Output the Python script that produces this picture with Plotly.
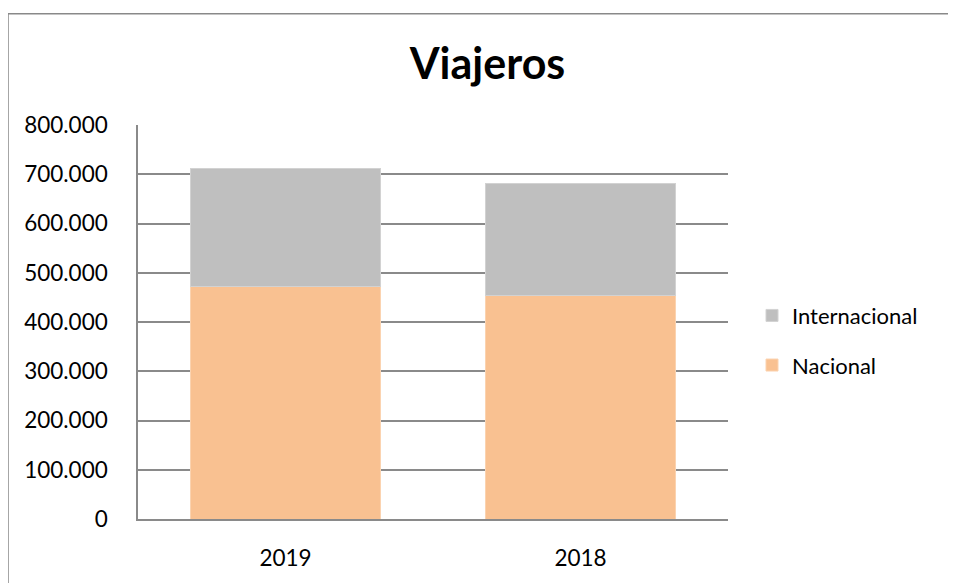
import plotly.graph_objects as go

years = ["2019", "2018"]
nacional = [472000, 453500]
internacional = [239500, 228300]
y_ticks = [0, 100000, 200000, 300000, 400000, 500000, 600000, 700000, 800000]
y_tick_labels = ["0", "100.000", "200.000", "300.000", "400.000", "500.000", "600.000", "700.000", "800.000"]

FONT = "Lato, 'Open Sans', sans-serif"
GRID = "#8a8a8a"

fig = go.Figure()
fig.add_trace(go.Bar(x=years, y=nacional, name="Nacional", legendgroup="n", legendrank=2,
                     marker=dict(color="#F9C191", line=dict(color="#FBD3B0", width=1))))
fig.add_trace(go.Bar(x=years, y=internacional, name="Internacional", legendgroup="i", legendrank=1,
                     marker=dict(color="#BFBFBF", line=dict(color="#D2D2D2", width=1))))

OFF = 8  # page body margin
W, H = 956 - OFF, 583 - OFF
L = 138 - OFF
T = 125 - OFF
R = W - (728 - OFF)
B = H - (521.5 - OFF)
pw = W - L - R
ph = H - T - B

def px_x(p):
    return (p - OFF - L) / pw

def px_y(p):
    return (H - B - (p - OFF)) / ph

fig.update_layout(
    width=W, height=H,
    margin=dict(l=L, r=R, t=T, b=B, pad=0),
    barmode="stack",
    bargap=0.356,
    plot_bgcolor="white",
    paper_bgcolor="white",
    font=dict(family=FONT, size=22, color="black"),
    title=dict(text="<b>Viajeros</b>", font=dict(family=FONT, size=43, color="black"),
               x=(487.5 - OFF) / W, xanchor="center", xref="container",
               y=1 - (64 - OFF) / H, yanchor="middle", yref="container"),
    legend=dict(x=px_x(752), xanchor="left", y=px_y(342), yanchor="middle",
                traceorder="grouped", tracegroupgap=18,
                font=dict(family=FONT, size=22, color="black"),
                bgcolor="rgba(0,0,0,0)"),
    showlegend=True,
)

fig.update_yaxes(range=[0, 800000], tickvals=y_ticks, ticktext=y_tick_labels,
                 showgrid=True, gridcolor=GRID, gridwidth=1.5,
                 showline=True, linecolor=GRID, linewidth=1.5,
                 zeroline=False, ticks="", ticklabelstandoff=24,
                 tickfont=dict(family=FONT, size=22.5, color="black"))
fig.update_xaxes(showgrid=False, showline=True, linecolor=GRID, linewidth=1.5,
                 ticks="", ticklabelstandoff=18,
                 tickfont=dict(family=FONT, size=22.5, color="black"))

fig.add_shape(type="rect", xref="paper", yref="paper",
              x0=px_x(8), x1=px_x(956 + 20), y0=px_y(583 + 20), y1=px_y(13),
              line=dict(color="#898989", width=1.5), fillcolor="rgba(0,0,0,0)", layer="above")

fig.write_html("out.html")
